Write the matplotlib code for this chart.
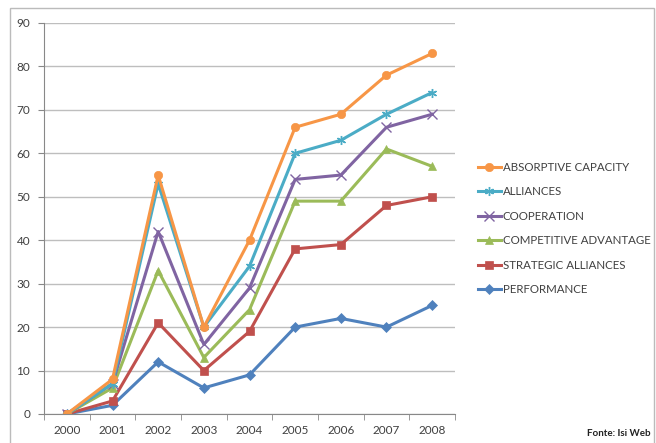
import numpy as np
import matplotlib
matplotlib.use("Agg")
import matplotlib.pyplot as plt
from matplotlib.patches import Rectangle

plt.rcParams['font.family'] = ['Lato', 'DejaVu Sans']

years = ['2000', '2001', '2002', '2003', '2004', '2005', '2006', '2007', '2008']

absorptive = [0, 8, 55, 20, 40, 66, 69, 78, 83]
alliances = [0, 7, 53, 20, 34, 60, 63, 69, 74]
cooperation = [0, 7, 42, 16, 29, 54, 55, 66, 69]
competitive = [0, 6, 33, 13, 24, 49, 49, 61, 57]
strategic = [0, 3, 21, 10, 19, 38, 39, 48, 50]
performance = [0, 2, 12, 6, 9, 20, 22, 20, 25]

series = [
    ('ABSORPTIVE CAPACITY', absorptive, '#F79646', 'o'),
    ('ALLIANCES', alliances, '#4BACC6', (6, 2, 0)),
    ('COOPERATION', cooperation, '#8064A2', 'x'),
    ('COMPETITIVE ADVANTAGE', competitive, '#9BBB59', '^'),
    ('STRATEGIC ALLIANCES', strategic, '#C0504D', 's'),
    ('PERFORMANCE', performance, '#4F81BD', 'D'),
]

fig = plt.figure(figsize=(6.56, 4.43), dpi=100)

# chart frame
fig.patches.append(Rectangle((10 / 656, -0.05), 644 / 656, 1 - 8 / 443 + 0.05,
                             transform=fig.transFigure, fill=False,
                             edgecolor='#BBBBBB', linewidth=1.0))

ax = fig.add_axes([44 / 656, 29 / 443, 411 / 656, 391 / 443])
x = np.arange(len(years))

# draw bottom series first so the top line sits above
for name, vals, color, marker in reversed(series):
    ms = 6.5 if marker in ('x', (6, 2, 0)) else 6
    if marker == 'D':
        ms = 5
    ax.plot(x, vals, color=color, linewidth=2.2, marker=marker, markersize=ms,
            markeredgewidth=1.0 if marker in ('x', (6, 2, 0)) else 0.5,
            markeredgecolor=color, label=name)

ax.set_xlim(-0.5, len(years) - 0.5)
ax.set_ylim(0, 90)
ax.set_yticks(np.arange(0, 91, 10))
ax.set_xticks(x)
ax.set_xticklabels(years)
ax.set_xticks(np.arange(-0.5, len(years)), minor=True)
ax.tick_params(axis='x', which='major', length=0, pad=8)
ax.tick_params(axis='x', which='minor', length=4, color='#888888')
ax.tick_params(axis='y', length=4, color='#888888', pad=6)
ax.tick_params(labelsize=8.5, labelcolor='#404040')
ax.grid(axis='y', color='#BEBEBE', linewidth=1.0)
ax.set_axisbelow(True)
for side in ('top', 'right'):
    ax.spines[side].set_visible(False)
for side in ('left', 'bottom'):
    ax.spines[side].set_color('#888888')

handles, labels = ax.get_legend_handles_labels()
leg = fig.legend(handles[::-1], labels[::-1], loc='upper left',
                 bbox_to_anchor=(473 / 656, 1 - 157 / 443), frameon=False,
                 fontsize=8.3, handlelength=2.0, handletextpad=0.2,
                 labelspacing=1.17, borderaxespad=0)
for t in leg.get_texts():
    t.set_color('#404040')

fig.text(651 / 656, 1 - 434 / 443, 'Fonte: Isi Web', ha='right', va='center',
         fontsize=7, fontweight='bold', color='#222222')

fig.savefig('out.png', dpi=100)
